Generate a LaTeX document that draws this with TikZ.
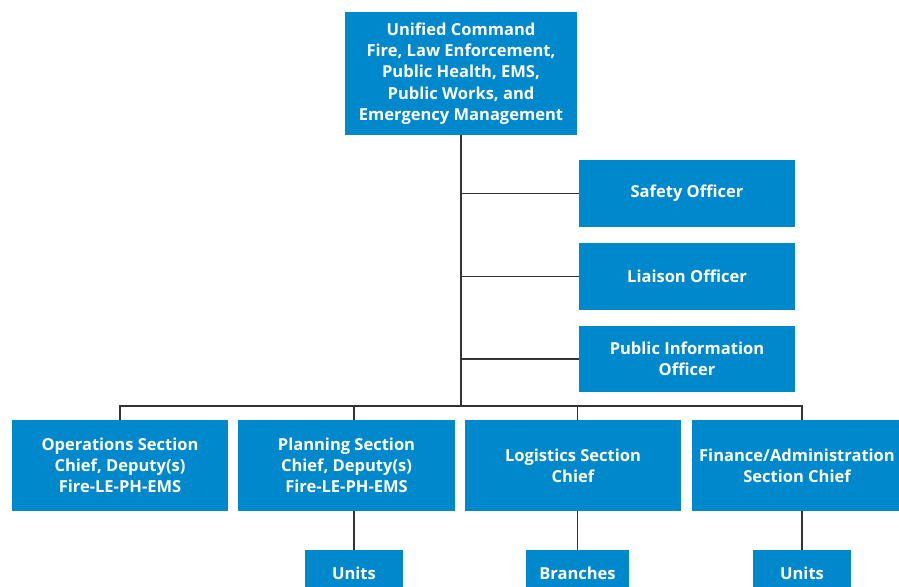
\documentclass[tikz,border=0pt]{standalone}
\usepackage{fontspec}
\setmainfont{Open Sans}
\usepackage{tikz}

\definecolor{icsblue}{RGB}{0,136,204}

\begin{document}
\begin{tikzpicture}[x=0.02cm, y=-0.02cm,
		box/.style={fill=icsblue, text=white, align=center, inner sep=0pt,
			font=\bfseries\fontsize{9.4}{12.1}\selectfont},
		wire/.style={draw=black!80, line width=0.8pt}]
				\path[use as bounding box, clip] (0,0) rectangle (899,587);
				% command and staff
				\node[box, minimum width=4.64cm, minimum height=2.46cm] (uc) at (461,73.5) {Unified Command\\Fire, Law Enforcement,\\Public Health, EMS,\\Public Works, and\\Emergency Management};
				\node[box, minimum width=4.32cm, minimum height=1.34cm] (so) at (687,193.5) {Safety Officer};
				\node[box, minimum width=4.32cm, minimum height=1.34cm] (lo) at (687,276.5) {Liaison Officer};
				\node[box, minimum width=4.32cm, minimum height=1.34cm] (pio) at (687,359) {Public Information\\Officer};
				% sections
				\node[box, minimum width=4.32cm, minimum height=1.82cm] (ops) at (120,465.5) {Operations Section\\Chief, Deputy(s)\\Fire-LE-PH-EMS};
				\node[box, minimum width=4.34cm, minimum height=1.82cm] (plan) at (346.5,465.5) {Planning Section\\Chief, Deputy(s)\\Fire-LE-PH-EMS};
				\node[box, minimum width=4.32cm, minimum height=1.82cm] (log) at (573,465.5) {Logistics Section\\Chief};
				\node[box, minimum width=4.2cm, minimum height=1.82cm] (fin) at (797,465.5) {Finance/Administration\\Section Chief};
				\node[box, minimum width=1.96cm, minimum height=0.92cm] (u1) at (354,573) {Units};
				\node[box, minimum width=2.06cm, minimum height=0.92cm] (br) at (577.5,573) {Branches};
				\node[box, minimum width=1.96cm, minimum height=0.92cm] (u2) at (802,573) {Units};
				\coordinate (bus) at (461,406);
				% lines
				\draw[wire] (uc.south) -- (bus);
				\draw[wire] (so.west -| bus) -- (so.west);
				\draw[wire] (lo.west -| bus) -- (lo.west);
				\draw[wire] (pio.west -| bus) -- (pio.west);
				\draw[wire] (ops.north) |- (bus) -| (u2 |- fin.north);
				\draw[wire] (u1 |- bus) -- (u1 |- plan.north);
				\draw[wire] (br |- bus) -- (br |- log.north);
				\draw[wire] (u1 |- plan.south) -- (u1.north);
				\draw[wire] (br |- log.south) -- (br.north);
				\draw[wire] (u2 |- fin.south) -- (u2.north);
			\end{tikzpicture}
\end{document}
